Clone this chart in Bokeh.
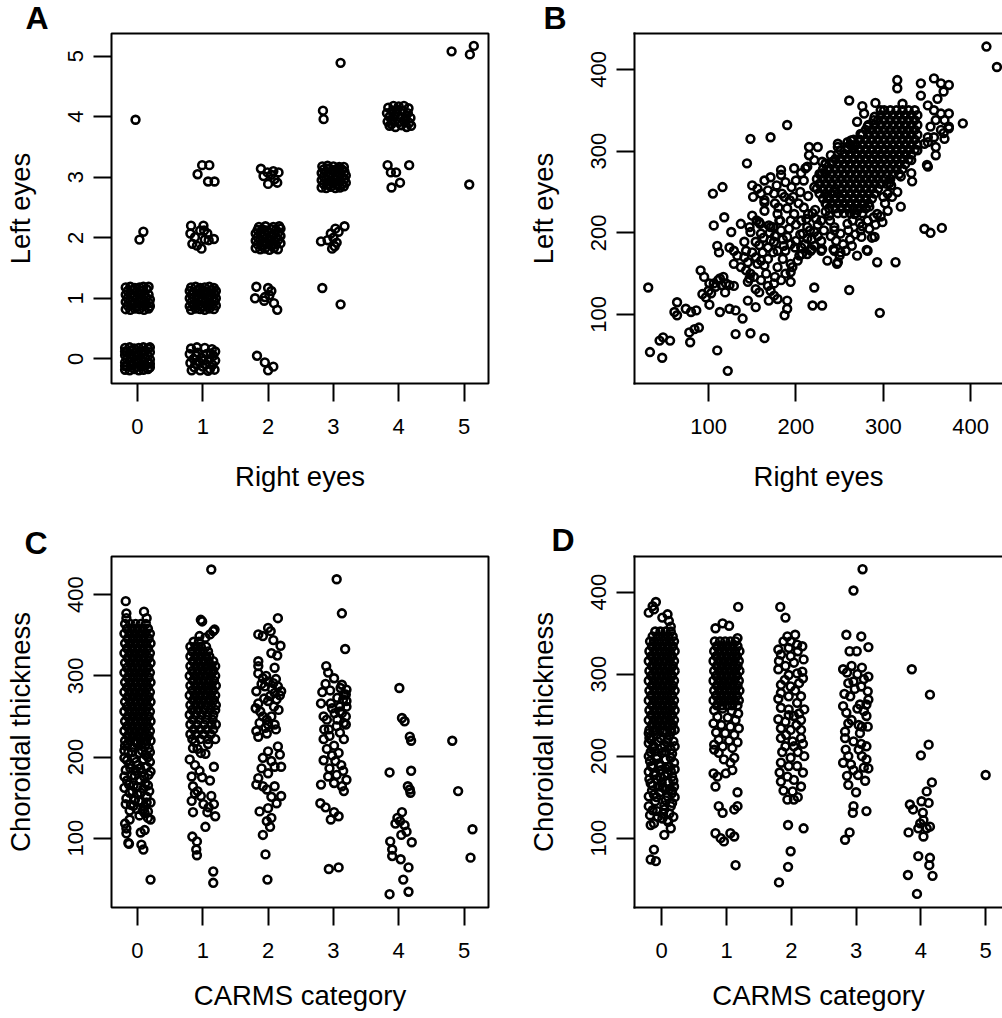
from bokeh.plotting import figure
from bokeh.layouts import row, column
from bokeh.models import Range1d, FixedTicker, LinearAxis
from bokeh.embed import file_html
from bokeh.resources import INLINE

FONT = "Liberation Sans"

# ================= Panel A : CARMS category, right vs left eye =================
# cells (right, left) ; jittered offsets in hundredths of a category
A_00 = [(-19,-18),(-12,-19),(-5,-17),(2,-19),(9,-18),(16,-17),(19,-14),
        (-16,-12),(-9,-11),(-2,-13),(5,-12),(12,-11),(19,-8),
        (-19,-6),(-12,-5),(-5,-7),(2,-6),(9,-5),(16,-7),
        (-16,0),(-9,1),(-2,-1),(5,0),(12,1),(19,-1),
        (-19,6),(-12,7),(-5,5),(2,6),(9,7),(16,5),
        (-16,12),(-9,13),(-2,11),(5,12),(12,13),(19,11),
        (-19,18),(-12,19),(-5,17),(2,18),(9,19),(16,17),(19,19),(-19,-12),(-19,12)]
A_11 = [(-18,-19),(-11,-17),(-4,-18),(3,-19),(10,-17),(17,-18),
        (-20,-13),(-14,-12),(-7,-11),(0,-13),(7,-12),(14,-11),(20,-12),
        (-17,-6),(-10,-7),(-3,-5),(4,-6),(11,-7),(18,-5),
        (-20,0),(-14,1),(-7,-1),(0,0),(7,1),(14,-1),(20,0),
        (-17,6),(-10,5),(-3,7),(4,6),(11,5),(18,7),
        (-20,12),(-14,11),(-7,13),(0,12),(7,11),(14,13),(20,12),
        (-18,18),(-11,19),(-4,17),(3,18),(10,19),(17,17)]
A_01 = [(-18,-18),(-11,-19),(-4,-17),(3,-18),(10,-19),(17,-17),
        (-15,-12),(-8,-11),(-1,-13),(6,-12),(13,-11),(19,-13),
        (-18,-6),(-11,-5),(-4,-7),(3,-6),(10,-5),(18,-8),
        (-15,0),(-8,1),(-1,-1),(6,0),(13,1),(19,-2),
        (-18,6),(-11,7),(-4,5),(3,6),(10,7),(17,6),
        (-15,12),(-8,13),(-1,11),(6,12),(14,15),
        (-18,18),(-11,19),(-4,17),(3,18),(9,19),(17,19)]
A_10 = [(-18,17),(-9,19),(3,18),(14,16),(19,12),(-20,8),(-8,10),(6,8),(16,5),(-14,0),
        (-2,2),(10,-1),(19,-3),(-19,-7),(-6,-5),(5,-9),(15,-10),(-13,-14),(0,-13),(11,-17),
        (-17,-19),(-4,-19),(8,-20),(18,-18),(-10,5),(1,-3),(-11,-8),(12,9)]
A_02 = [(9,10),(3,-3)]
A_04 = [(-3,-5)]
A_12 = [(-18,20),(1,20),(-4,12),(-19,7),(-12,1),(17,-2),(-2,-18),(-9,-13),(9,-4),(-16,-10),(3,-3),(7,7),(2,12)]
A_13 = [(-1,20),(10,20),(-8,5),(8,-7),(18,-7)]
A_20 = [(-17,5),(-5,-6),(0,-19),(8,-13)]
A_21 = [(-18,19),(0,17),(-20,0),(-5,2),(2,5),(9,-8),(14,-19),(-6,-4),(5,12)]
A_22 = [(-19,-17),(-12,-19),(-5,-18),(2,-20),(9,-17),(15,-19),
        (-16,-11),(-9,-12),(-2,-10),(5,-12),(12,-11),(19,-9),
        (-19,-5),(-12,-4),(-5,-6),(2,-4),(9,-5),(16,-3),
        (-16,1),(-9,2),(-2,0),(5,2),(12,1),(19,3),
        (-19,7),(-12,8),(-5,6),(2,8),(9,7),(16,9),
        (-16,13),(-9,14),(-2,12),(5,14),(12,13),(19,15),
        (-14,18),(-4,19),(8,18),(17,19)]
A_23 = [(-11,14),(-1,8),(16,8),(0,-11),(14,-9),(5,4),(8,10),(-7,2),(10,-3)]
A_31 = [(-17,17),(11,-10)]
A_32 = [(-19,-6),(-9,-4),(3,15),(17,19),(-2,-18),(5,-8),(-4,7),(0,0),(8,10),(2,-14)]
A_33 = [(-18,-17),(-11,-18),(-4,-16),(3,-18),(10,-17),(16,-15),
        (-15,-11),(-8,-12),(-1,-10),(6,-12),(13,-11),(19,-9),
        (-18,-5),(-11,-4),(-4,-6),(3,-4),(10,-5),(17,-3),
        (-15,1),(-8,2),(-1,0),(6,2),(13,1),(19,3),
        (-18,7),(-11,8),(-4,6),(3,8),(10,7),(17,9),
        (-15,13),(-8,14),(-1,12),(6,14),(13,13),
        (-17,18),(-9,19),(0,18),(9,17),(16,17)]
A_34 = [(-16,10),(-15,-4)]
A_35 = [(11,-11)]
A_43 = [(-17,20),(-12,8),(-4,8),(16,20),(-11,-17),(2,-9)]
A_44 = [(-16,15),(-8,18),(0,17),(8,18),(15,14),(-18,6),(-10,9),(-2,8),(6,10),(14,6),
        (-14,0),(-6,2),(3,-1),(11,1),(18,-2),(-17,-8),(-9,-6),(0,-9),(8,-7),(16,-10),
        (-14,-15),(-5,-17),(4,-14),(12,-17),(19,-15),(-3,12),(10,-3),(-11,-12)]
A_53 = [(8,-12)]
A_55 = [(-19,8),(15,17),(9,3)]
A_groups = [(0,0,A_00),(1,1,A_11),(0,1,A_01),(1,0,A_10),(0,2,A_02),(0,4,A_04),(1,2,A_12),
            (1,3,A_13),(2,0,A_20),(2,1,A_21),(2,2,A_22),(2,3,A_23),(3,1,A_31),(3,2,A_32),
            (3,3,A_33),(3,4,A_34),(3,5,A_35),(4,3,A_43),(4,4,A_44),(5,3,A_53),(5,5,A_55)]

# ================= Panel B : choroidal thickness, right vs left eye =================
B_sparse = [(31,133),(33,54),(47,47),(44,68),(48,72),(56,68),(64,115),(61,103),(64,99),(74,107),(80,103),(86,105),
    (78,78),(84,82),(89,84),(79,66),(91,154),(95,146),(101,138),(93,125),(97,121),(101,112),(106,138),(113,144),
    (120,138),(110,56),(122,31),(113,103),(124,107),(131,105),(139,95),(131,76),(148,77),(164,71),(145,117),
    (154,109),(145,140),(154,131),(158,127),(169,117),(175,123),(179,119),(190,117),(190,107),(187,99),(194,140),
    (194,152),(221,133),(219,111),(230,111),(261,130),(296,102),(293,164),(314,164),(347,205),(354,200),(367,206),
    (111,142),(115,136),(117,146),(124,136),(129,135),(119,127),(100,129),(103,126),(108,134),
    (129,162),(137,158),(143,154),(148,150),(145,164),(154,170),(160,166),(164,160),(147,144),(152,146),(160,142),
    (168,135),(171,129),(175,138),(183,142),(188,150),(194,162),(179,158),(185,168),(168,168),(179,178),(175,189),
    (188,178),(194,186),(206,182),(213,193),(204,172),(217,178),
    (106,209),(118,219),(126,201),(137,211),(147,207),(158,213),(169,209),(181,215),
    (110,184),(112,176),(124,182),(129,178),(133,172),(141,189),(143,178),(154,189),(160,199),(168,182),(171,191),(148,201),
    (198,223),(206,215),(213,207),(221,201),(229,215),(238,221),(244,207),(251,199),(259,211),(267,223),(274,203),
    (282,215),(290,195),(293,223),(299,213),(305,227),(320,232),(236,166),(248,164),(250,172),(244,178),(270,172),
    (282,178),(221,184),(229,178),(213,174),(229,190),(190,195),(183,203),(171,207),(194,215),(179,223),(164,227),(150,221),
    (418,428),(430,403),(316,387),(316,377),(261,362),(276,355),(291,359),(343,383),(358,389),(366,383),(375,381),
    (369,373),(362,364),(343,368),(391,334),(375,330),(369,322),(360,295),(350,283),(322,358),(190,332),(148,315),
    (171,317),(144,285),(105,248),(116,256),
    (150,258),(156,254),(164,264),(171,268),(183,271),(183,277),(198,279),(206,273),(211,279),(215,305),(225,305),
    (215,295),(234,285),(242,287),(248,305),(259,311),(265,307),(200,264),(187,244),(175,248),(164,240),(209,264),
    (221,256),(230,273),
    (270,336),(278,346),(282,330),(290,342),(297,350),(332,273),(320,269),(309,258),(305,248),(351,281),(332,289),
    (339,301),(347,309),(351,317),
    (351,356),(358,350),(366,346),(375,346),(370,338),(360,338),(354,330),(366,326),(375,328),(358,317),(370,315),
    (351,311),(360,305),(248,309),(263,313),(274,321),(213,281),(221,289),(230,287),(240,295),(251,301),(259,305),
    (333,263),(307,261),(151,244),(164,237),(180,231),(184,248),(209,231),(214,223),(197,244),(193,240),(182,215),
    (174,207),(155,215),(159,211),(222,228),(223,217),(235,235),(239,215),(244,203),(260,203),(265,215),(273,212),
    (289,219),(275,195),(287,194),(281,179),(243,180),(251,176),(247,162),(230,180),(218,180),(208,199),(216,203),
    (199,182),(207,174),
    (141,170),(150,176),(158,185),(163,194),(170,200),(176,196),(185,192),(192,205),(200,210),(205,198),(212,217),
    (219,224),(225,210),(232,203),(240,196),(246,190),(254,186),(262,192),(268,198),(276,208),(284,205),(291,210),
    (297,220),(302,236),(310,244),(316,250),(257,178),(264,184),(225,196),(218,192),(200,190),(186,184),(174,176),
    (162,176),(156,162),(166,150),(176,146),(196,158),(202,166),(210,186),(234,226),(252,230),(270,228),(284,232),
    (300,244),(214,245),(205,250),(195,256),(188,262),(178,258),(168,252),(160,248),(176,236),(190,230),(203,236),
    (236,244),(244,250)]
# dense core of the cloud: rows of (left-eye value, [right-eye values])
B_core = [(350,[301,308,315,322,329,336]),
    (344,[297,304,311,318,325,332,339]),
    (338,[289,294,301,308,315,322,329,336]),
    (332,[283,290,297,304,311,318,325,332,339]),
    (326,[280,287,294,301,308,315,322,329,336]),
    (320,[276,283,290,297,304,311,318,325,332,339]),
    (314,[266,273,280,287,294,301,308,315,322,329,336]),
    (308,[262,269,276,283,290,297,304,311,318,325,332,339]),
    (302,[259,266,273,280,287,294,301,308,315,322,329,336]),
    (296,[248,255,262,269,276,283,290,297,304,311,318,325,332]),
    (290,[245,252,259,266,273,280,287,294,301,308,315,322,329]),
    (284,[234,241,248,255,262,269,276,283,290,297,304,311,318,325]),
    (278,[231,238,245,252,259,266,273,280,287,294,301,308,315,322]),
    (272,[227,234,241,248,255,262,269,276,283,290,297,304,311,318]),
    (266,[224,231,238,245,252,259,266,273,280,287,294,301,308]),
    (260,[227,234,241,248,255,262,269,276,283,290,297,304]),
    (254,[224,231,238,245,252,259,266,273,280,287,294]),
    (248,[227,234,241,248,255,262,269,276,283,290]),
    (242,[231,238,245,252,259,266,273,280,287]),
    (236,[234,241,248,255,262,269,276,283]),
    (230,[238,245,252,259,266,273,280]),
    (224,[248,255,262,269,276])]

# ================= Panel C : right eye thickness by CARMS category =================
# (jitter offset in hundredths, thickness)
C0_sparse = [(-18,392),(-17,377),(10,379),(14,371),(-17,371),
    (-19,214),(-8,212),(6,215),(17,211),(-14,206),(2,205),(12,203),(-20,199),(-5,198),(9,197),(19,194),
    (-12,191),(0,190),(14,188),(-18,184),(-3,183),(7,181),(-9,177),(17,178),(-16,171),(4,172),(12,168),
    (-6,165),(-20,162),(9,161),(18,158),(-12,156),(0,154),(14,151),(-17,149),(-4,147),(6,145),(20,144),
    (-10,141),(11,139),(-1,136),(16,133),(3,128),
    (-15,216),(-1,217),(13,216),(-20,208),(-8,206),(7,208),(19,206),(-16,196),(-2,194),(16,200),(-11,186),
    (4,186),(20,182),(-20,176),(-4,177),(10,176),(-13,166),(0,163),(16,165),(-8,158),(5,156),(-18,142),
    (-6,140),(2,146),(14,144),(-12,134),(8,134),
    (-19,118),(-17,112),(-12,123),(-17,106),(-14,94),(6,92),(9,86),(11,110),(5,107),(16,125),(20,123),
    (11,131),(20,49),(-13,93)]
C0_dense = [(220,[-19,-11,-3,5,13,20]),(226,[-15,-7,1,9,17]),(232,[-20,-12,-4,4,12,19]),(238,[-16,-8,0,8,16]),
    (244,[-19,-11,-3,5,13,20]),(250,[-15,-7,1,9,17]),(256,[-20,-12,-4,4,12,19]),(262,[-16,-8,0,8,16]),
    (268,[-19,-11,-3,5,13,20]),(274,[-15,-7,1,9,17]),(280,[-20,-12,-4,4,12,19]),(286,[-16,-8,0,8,16]),
    (292,[-19,-11,-3,5,13,20]),(298,[-15,-7,1,9,17]),(304,[-20,-12,-4,4,12,19]),(310,[-16,-8,0,8,16]),
    (316,[-19,-11,-3,5,13,20]),(322,[-15,-7,1,9,17]),(328,[-20,-12,-4,4,12,19]),(334,[-16,-8,0,8,16]),
    (340,[-19,-11,-3,5,13,20]),(346,[-15,-7,1,9,17]),(352,[-20,-12,-4,4,12,19]),(358,[-16,-8,0,8,16]),
    (364,[-19,-11,-3,5,13])]
C1_sparse = [(13,431),(-3,369),(-1,367),(16,355),(11,351),(4,347),(-5,349),(18,357),
    (-15,211),(-8,210),(-3,205),(4,204),(-20,197),(-12,190),(-5,183),(17,188),(-17,176),(-1,175),(11,171),
    (-15,164),(-8,158),(-3,152),(-17,146),(13,152),(17,142),(9,138),(1,142),(-15,132),(7,132),(19,127),
    (4,114),(-16,102),(-9,96),(-10,86),(-9,79),(16,59),(16,45),(-12,155),(-12,218),(8,216)]
C1_dense = [(222,[-16,-4,8,19]),(228,[-19,-10,1,12]),(234,[-14,-4,6,16]),(240,[-19,-9,2,13,20]),
    (246,[-15,-5,5,15]),(252,[-20,-11,-2,7,16]),(258,[-16,-7,2,11,19]),(264,[-19,-11,-3,5,13,20]),
    (270,[-15,-7,1,9,17]),(276,[-20,-12,-4,4,12,19]),(282,[-16,-8,0,8,16]),(288,[-19,-11,-3,5,13,20]),
    (294,[-15,-7,1,9,17]),(300,[-20,-12,-4,4,12,19]),(306,[-16,-8,0,8,16]),(312,[-19,-11,-3,5,13,19]),
    (318,[-15,-7,1,9,16]),(324,[-19,-11,-3,5,10]),(330,[-16,-8,0,8]),(336,[-19,-11,-3,5]),(342,[-14,-6])]
C2_pts = [(15,371),(0,359),(4,355),(-15,351),(-8,349),(8,344),(19,337),(5,328),(14,325),(-15,318),(-15,312),
    (10,310),(-15,303),(-8,297),(0,293),(8,291),(-5,287),(15,287),(20,281),(10,279),(3,275),(13,271),(-18,281),
    (-15,266),(0,269),(-19,260),(-8,250),(-2,246),(-13,242),(10,240),(5,250),(0,240),(-18,232),(-15,225),
    (-2,229),(15,213),(0,207),(18,203),(-8,199),(5,195),(20,188),(10,188),(-10,186),(0,180),(-15,174),
    (-18,166),(-8,164),(10,164),(-2,160),(20,152),(5,151),(13,143),(-13,133),(0,137),(5,125),(-2,121),
    (3,114),(-8,104),(-4,80),(-1,49),
    (-3,300),(12,296),(-10,290),(6,284),(18,276),(-6,272),(9,262),(16,258),(-12,256),(-4,236),(12,234)]
C3_pts = [(5,419),(13,377),(18,333),(-11,312),(-8,304),(1,297),(13,289),(20,283),(16,277),(20,269),(-17,280),
    (-19,266),(-4,266),(10,262),(13,254),(-15,250),(-10,246),(6,246),(19,240),(-7,234),(-15,222),(16,222),
    (1,214),(-2,202),(3,195),(15,183),(-19,166),(1,168),(13,164),(16,158),(-20,143),(-12,138),(1,132),
    (-4,123),(8,127),(-7,62),(8,64),
    (11,285),(19,277),(15,271),(20,262),(10,256),(19,250),(16,242),(5,238),(-2,260),(6,273),(-12,290),
    (-5,282),(2,254),(-14,234),(-6,226),(10,230),(-10,210),(8,205),(-15,196),(12,190),(-6,186),(20,172),
    (-8,176),(5,178)]
C4_pts = [(1,285),(5,248),(9,244),(17,225),(19,220),(-14,181),(19,183),(14,164),(17,160),(18,156),(5,132),
    (-2,125),(2,121),(9,116),(-5,118),(-13,96),(-10,86),(-10,78),(20,95),(3,74),(15,64),(7,49),(-14,31),
    (15,34),(4,104),(12,108)]
C5_pts = [(-18,220),(-9,158),(13,111),(10,76)]

# ================= Panel D : left eye thickness by CARMS category =================
D0_sparse = [(-20,375),(-14,383),(-9,388),(-12,379),(1,369),(9,373),(11,365),(14,358),
    (-20,228),(-20,216),(-14,210),(-2,222),(9,220),(14,208),(-20,200),(-7,200),(6,196),(19,192),(-20,181),
    (-12,177),(-2,183),(9,179),(16,175),(-17,167),(-4,163),(6,159),(19,163),(-20,151),(-12,153),(9,151),
    (16,155),(-20,139),(-7,133),(4,135),(14,139),(9,122),(-17,116),(-12,118),(1,124),(14,112),(4,104),
    (-12,86),(-17,74),(-9,72),
    (-8,226),(12,225),(-16,220),(18,218),(4,214),(-10,206),(16,203),(0,204),(-18,194),(-4,191),(12,187),
    (20,184),(-14,186),(5,176),(-8,172),(18,170),(0,168),(12,160),(-15,158),(-3,156),(20,150),(6,146),
    (-10,145),(16,143),(-18,128),(2,130),(-6,126),(18,126),(10,120),
    (-13,230),(2,229),(15,230),(-19,222),(-6,218),(8,217),(20,212),(-12,212),(0,210),(-17,205),(6,206),
    (-8,197),(14,198),(-2,188),(-16,188),(6,185),(-10,180),(14,182),(-19,172),(-2,174),(10,168),(-14,164),
    (2,162),(16,158),(-8,150),(4,140),(-14,134),(12,130)]
D0_dense = [(232,[-19,-11,-3,5,13,20]),(238,[-15,-7,1,9,17]),(244,[-20,-12,-4,4,12,19]),(250,[-16,-8,0,8,16]),
    (256,[-19,-11,-3,5,13,20]),(262,[-15,-7,1,9,17]),(268,[-20,-12,-4,4,12,19]),(274,[-16,-8,0,8,16]),
    (280,[-19,-11,-3,5,13,20]),(286,[-15,-7,1,9,17]),(292,[-20,-12,-4,4,12,19]),(298,[-16,-8,0,8,16]),
    (304,[-19,-11,-3,5,13,20]),(310,[-15,-7,1,9,17]),(316,[-20,-12,-4,4,12,19]),(322,[-16,-8,0,8,16]),
    (328,[-19,-11,-3,5,13,20]),(334,[-15,-7,1,9,17]),(340,[-18,-12,-4,4,12,19]),(346,[-14,-6,2,10,17]),
    (352,[-10,-2,6,14])]
D1_sparse = [(18,382),(-17,356),(-6,362),(4,359),(17,344),
    (-19,208),(-12,204),(-4,196),(6,192),(-20,179),(-14,175),(-17,163),(-1,179),(9,183),(12,198),(17,156),
    (-12,139),(-6,131),(12,135),(17,139),(-17,106),(-9,100),(-4,96),(6,106),(12,102),(14,67),
    (-19,256),(-6,258),(8,255),(18,252),(-14,248),(2,247),(14,244),(-20,240),(-8,238),(6,236),(19,234),
    (-16,229),(-2,228),(12,226),(-12,220),(4,219),(17,217),(-19,214),(-6,212),(9,210)]
D1_dense = [(262,[-15,-7,1,9,17]),(268,[-20,-12,-4,4,12,19]),(274,[-16,-8,0,8,16]),(280,[-19,-11,-3,5,13,20]),
    (286,[-15,-7,1,9,17]),(292,[-20,-12,-4,4,12,19]),(298,[-16,-8,0,8,16]),(304,[-19,-11,-3,5,13,20]),
    (310,[-15,-7,1,9,17]),(316,[-20,-12,-4,4,12,19]),(322,[-16,-8,0,8,16]),(328,[-19,-11,-3,5,13,20]),
    (334,[-15,-7,1,9,17]),(340,[-18,-10,-2,6,14])]
D2_pts = [(-17,382),(-9,369),(-6,346),(6,348),(-1,340),(9,336),(17,334),(-20,330),(-16,324),(-4,332),(-1,322),
    (19,318),(-9,310),(-20,306),(-4,299),(9,301),(17,303),(-16,287),(-1,285),(12,289),(15,273),(-4,273),
    (-16,277),(9,265),(20,257),(-4,257),(-16,259),(4,249),(15,244),(-9,242),(-16,234),(-1,232),(15,232),
    (-16,222),(2,218),(15,222),(-9,212),(4,212),(20,200),(-1,198),(-16,192),(9,188),(-6,175),(-16,169),
    (4,171),(15,163),(2,157),(-6,147),(4,147),(-5,116),(19,112),(-1,84),(-5,65),(-19,46),
    (-12,340),(10,328),(-19,316),(4,314),(18,295),(-10,293),(6,280),(-20,270),(12,252),(-4,250),(-20,245),
    (8,238),(-8,226),(18,215),(-14,205),(10,205),(-4,188),(18,180),(-18,180),(10,150),(-12,158)]
D3_pts = [(10,428),(-4,402),(-15,348),(8,346),(19,333),(-10,328),(1,328),(-20,306),(-7,310),(9,308),(19,297),
    (-12,289),(-4,291),(18,279),(-20,261),(-9,273),(19,269),(6,263),(16,263),(-15,253),(-7,244),(16,249),
    (9,236),(-17,230),(-17,222),(6,228),(16,212),(-12,200),(-20,192),(9,200),(16,196),(-4,183),(19,185),
    (-12,165),(3,177),(-4,139),(-5,131),(16,133),(-10,107),(-17,98),
    (-14,302),(2,300),(12,294),(-2,282),(8,285),(-18,276),(2,258),(12,255),(-12,240),(4,238),(18,236),
    (-4,218),(8,215),(-16,208),(4,208),(12,186),(-8,190),(-14,176),(14,170),(0,156)]
D4_pts = [(-14,306),(14,275),(12,214),(0,201),(17,168),(9,157),(12,143),(1,145),(-17,141),(-12,135),(3,131),
    (4,122),(-1,118),(-19,107),(-4,112),(9,112),(14,114),(4,102),(-4,78),(14,76),(13,67),(-20,55),(18,54),(-6,32)]
D5_pts = [(0,177)]

C_groups = [(0, C0_sparse, C0_dense), (1, C1_sparse, C1_dense), (2, C2_pts, []), (3, C3_pts, []),
            (4, C4_pts, []), (5, C5_pts, [])]
D_groups = [(0, D0_sparse, D0_dense), (1, D1_sparse, D1_dense), (2, D2_pts, []), (3, D3_pts, []),
            (4, D4_pts, []), (5, D5_pts, [])]


def collect_cat(groups):
    xs, ys = [], []
    for cat, pts, rows in groups:
        for dx, y in pts:
            xs.append(cat + dx / 100.0); ys.append(y)
        for y, dxs in rows:
            for dx in dxs:
                xs.append(cat + dx / 100.0); ys.append(y)
    return xs, ys


def make_panel(xr, yr, fw, fh, bl, br, bt, bb, xticks, yticks, xlab, ylab,
               letter, l_off, l_stand, x_lab_standoff, x_title_standoff, open_right):
    p = figure(x_range=Range1d(*xr), y_range=Range1d(*yr), frame_width=fw, frame_height=fh,
               min_border_left=bl, min_border_right=br, min_border_top=bt, min_border_bottom=bb,
               output_backend="svg", toolbar_location=None)
    p.xgrid.grid_line_color = None
    p.ygrid.grid_line_color = None
    p.background_fill_color = "white"
    p.border_fill_color = "white"
    xa = p.below[0]
    ya = p.left[0]
    for ax in (xa, ya):
        ax.major_tick_line_width = 2
        ax.major_tick_line_color = "black"
        ax.major_tick_out = 18
        ax.major_tick_in = 0
        ax.minor_tick_line_color = None
        ax.major_label_text_font = FONT
        ax.major_label_text_font_size = "22px"
        ax.major_label_text_color = "black"
        ax.axis_label_text_font = FONT
        ax.axis_label_text_font_size = "27.5px"
        ax.axis_label_text_font_style = "normal"
        ax.axis_label_text_color = "black"
        if open_right:
            ax.axis_line_color = "black"
            ax.axis_line_width = 2
            ax.axis_line_cap = "square"
        else:
            ax.axis_line_color = None
    xa.ticker = FixedTicker(ticks=xticks)
    ya.ticker = FixedTicker(ticks=yticks)
    xa.axis_label = xlab
    ya.axis_label = ylab
    xa.major_label_standoff = x_lab_standoff
    xa.axis_label_standoff = x_title_standoff
    ya.major_label_orientation = "vertical"
    ya.major_label_standoff = 10
    ya.axis_label_standoff = 30
    if open_right:
        # box drawn by left/bottom axis lines plus a bare top line (right side is cut by the page edge)
        p.outline_line_color = None
        top = LinearAxis(ticker=FixedTicker(ticks=[], minor_ticks=[]), axis_line_width=2,
                         axis_line_color="black", axis_line_cap="square",
                         major_tick_line_color=None, minor_tick_line_color=None,
                         major_tick_out=0, minor_tick_out=0, major_tick_in=0, minor_tick_in=0,
                         major_label_standoff=0, axis_label=None)
        p.add_layout(top, "above")
    else:
        p.outline_line_color = "black"
        p.outline_line_width = 2
    # panel letter as the figure title
    p.title.text = letter
    p.title.text_font = FONT
    p.title.text_font_size = "32px"
    p.title.text_font_style = "bold"
    p.title.text_color = "black"
    p.title.align = "left"
    p.title.offset = l_off
    p.title.standoff = l_stand
    return p


def dots(p, xs, ys):
    p.scatter(xs, ys, marker="circle", size=7.8, fill_color=None, line_color="black", line_width=2.6)


# ---- A
pA = make_panel((-0.398, 5.375), (-0.408, 5.375), 377, 350, 111, 12, 33, 137,
                [0, 1, 2, 3, 4, 5], [0, 1, 2, 3, 4, 5], "Right eyes", "Left eyes", "A", -86, -5, 17, 24, False)
ax_, ay_ = [], []
for r, l, pts in A_groups:
    for dx, dy in pts:
        ax_.append(r + dx / 100.0); ay_.append(l + dy / 100.0)
dots(pA, ax_, ay_)

# ---- B
pB = make_panel((15.3, 436.4), (15.5, 444.0), 368, 350, 134, 0, 33, 137,
                [100, 200, 300, 400], [100, 200, 300, 400], "Right eyes", "Left eyes", "B", -91, -5, 17, 24, True)
bx_, by_ = [x for x, y in B_sparse], [y for x, y in B_sparse]
for y, xs in B_core:
    for x in xs:
        bx_.append(x); by_.append(y)
dots(pB, bx_, by_)

# ---- C
pC = make_panel((-0.398, 5.375), (14.6, 447.0), 377, 351, 111, 12, 35, 112,
                [0, 1, 2, 3, 4, 5], [100, 200, 300, 400], "CARMS category", "Choroidal thickness",
                "C", -87, -9, 17, 19, False)
cx_, cy_ = collect_cat(C_groups)
dots(pC, cx_, cy_)

# ---- D
pD = make_panel((-0.42, 5.26), (15.4, 443.5), 368, 351, 134, 0, 35, 112,
                [0, 1, 2, 3, 4, 5], [100, 200, 300, 400], "CARMS category", "Choroidal thickness",
                "D", -83, -2, 17, 19, True)
dx_, dy_ = collect_cat(D_groups)
dots(pD, dx_, dy_)

layout = column(row(pA, pB), row(pC, pD))
open("out.html", "w").write(file_html(layout, INLINE))
